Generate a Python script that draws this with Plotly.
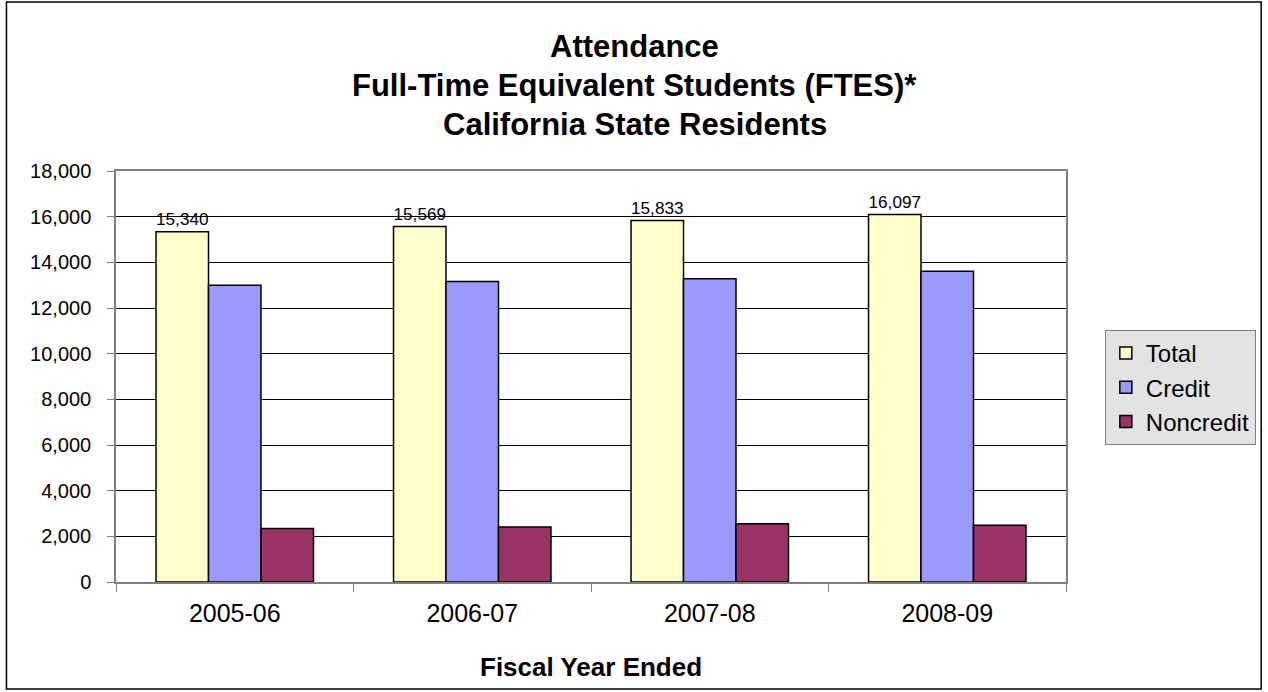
import plotly.graph_objects as go

years = ["2005-06", "2006-07", "2007-08", "2008-09"]
total = [15340, 15569, 15833, 16097]
credit = [13000, 13160, 13280, 13610]
noncredit = [2340, 2409, 2553, 2487]
series_names = ["Total", "Credit", "Noncredit"]
series_colors = ["#FFFFCC", "#9999FF", "#993366"]
title_lines = ["Attendance", "Full-Time Equivalent Students (FTES)*", "California State Residents"]
y_ticks = list(range(0, 18001, 2000))

W, H = 1268, 692
L, R, T, B = 116, 198, 171, 110
PW, PH = W - L - R, H - T - B

def px(x):
    return (x - L) / PW

def py(y):
    return (H - B - y) / PH

FONT = "Liberation Sans, Arial, sans-serif"

fig = go.Figure()
for name, vals, col in zip(series_names, [total, credit, noncredit], series_colors):
    is_total = name == "Total"
    fig.add_trace(go.Bar(
        name=name, x=years, y=vals,
        marker=dict(color=col, line=dict(color="black", width=1.5)),
        text=[f"{v:,}" for v in vals] if is_total else None,
        textposition="outside" if is_total else "none",
        textfont=dict(size=20, color="black", family=FONT),
        cliponaxis=False,
    ))

annotations = []
for line, yp in zip(title_lines, [46, 86, 125]):
    annotations.append(dict(text=f"<b>{line}</b>", x=px(637), y=py(yp), xref="paper", yref="paper",
                            showarrow=False, font=dict(size=31, family=FONT, color="black"),
                            xanchor="center", yanchor="middle"))
annotations.append(dict(text="<b>Fiscal Year Ended</b>", x=px(593), y=py(667), xref="paper", yref="paper",
                        showarrow=False, font=dict(size=26, family=FONT, color="black"),
                        xanchor="center", yanchor="middle"))

fig.update_layout(
    width=W, height=H,
    margin=dict(l=L, r=R, t=T, b=B, pad=0),
    paper_bgcolor="white", plot_bgcolor="white",
    barmode="group", bargap=0.337, bargroupgap=0,
    font=dict(family=FONT, color="black"),
    showlegend=True,
    legend=dict(x=px(1109), y=py(330), xanchor="left", yanchor="top",
                bgcolor="#E3E3E3", bordercolor="#808080", borderwidth=1,
                font=dict(size=24, family=FONT, color="black"),
                itemwidth=30, tracegroupgap=0),
    annotations=annotations,
    shapes=[dict(type="rect", xref="paper", yref="paper",
                 x0=px(6), x1=px(1266), y0=py(689), y1=py(2),
                 line=dict(color="black", width=1.5), fillcolor="rgba(0,0,0,0)", layer="below")],
)
fig.update_xaxes(type="category", showline=True, linecolor="#808080", linewidth=1.5, mirror=True,
                 ticks="outside", ticklen=8, tickcolor="#808080", tickson="boundaries",
                 ticklabelstandoff=8,
                 tickfont=dict(size=25, family=FONT, color="black"), showgrid=False)
fig.update_yaxes(range=[0, 18000], tickvals=y_ticks, tickformat=",",
                 showline=True, linecolor="#808080", linewidth=1.5, mirror=True,
                 ticks="outside", ticklen=7, tickcolor="#808080", ticklabelstandoff=12,
                 gridcolor="black", gridwidth=1, zeroline=False,
                 tickfont=dict(size=20, family=FONT, color="black"))

fig.write_html("out.html", config={"displayModeBar": False},
               post_script="document.body.style.margin='0';")
